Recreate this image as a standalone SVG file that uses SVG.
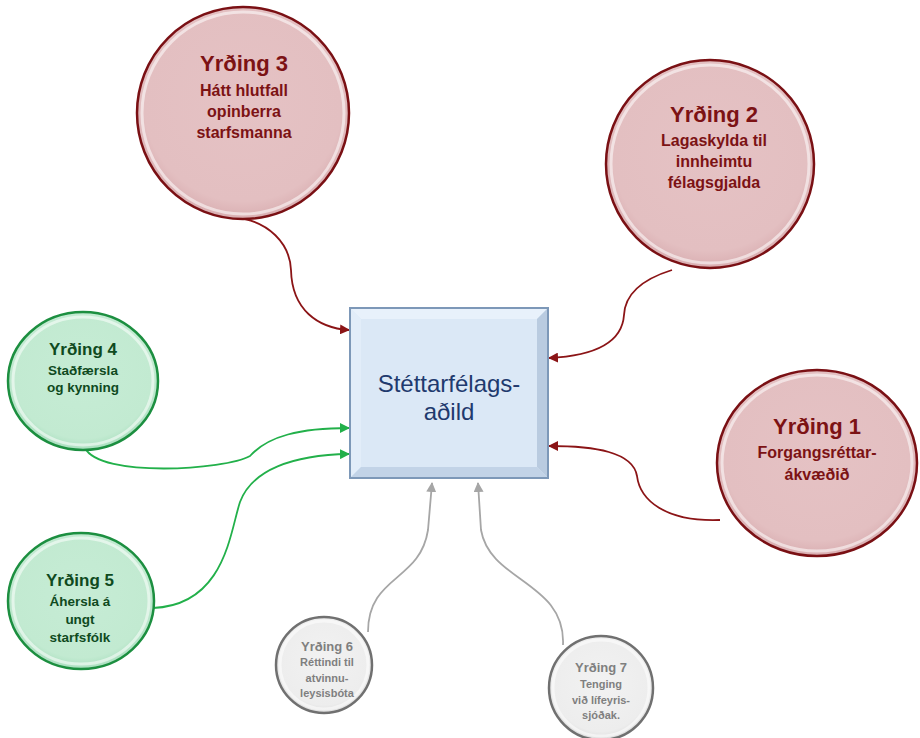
<svg xmlns="http://www.w3.org/2000/svg" width="920" height="738" viewBox="0 0 920 738">
<defs>
<style>
.t{font-family:"Liberation Sans",Arial,sans-serif;font-weight:bold;text-anchor:middle}
.red{fill:#7c1214}
.grn{fill:#0f4a1e}
.gry{fill:#7f7f7f}
.rc{fill:url(#gRed);stroke:#7a1014;stroke-width:2.5}
.gc{fill:url(#gGrn);stroke:#1c8f40;stroke-width:2.5}
.yc{fill:url(#gGry);stroke:#707070;stroke-width:2.5}
.hl{fill:none;stroke:#ffffff;stroke-opacity:0.55;stroke-width:3}
.cr{fill:none;stroke:#8b1416;stroke-width:1.8}
.cg{fill:none;stroke:#22b04a;stroke-width:1.8}
.cy{fill:none;stroke:#a6a6a6;stroke-width:1.8}
</style>
<radialGradient id="gRed" cx="0.5" cy="0.45" r="0.55">
<stop offset="0" stop-color="#e5c2c4"/><stop offset="0.85" stop-color="#e3bfc1"/><stop offset="1" stop-color="#d9aeb1"/>
</radialGradient>
<radialGradient id="gGrn" cx="0.5" cy="0.45" r="0.55">
<stop offset="0" stop-color="#c6ecd5"/><stop offset="0.85" stop-color="#c2ead1"/><stop offset="1" stop-color="#aadfbf"/>
</radialGradient>
<radialGradient id="gGry" cx="0.5" cy="0.45" r="0.55">
<stop offset="0" stop-color="#f2f2f2"/><stop offset="0.85" stop-color="#ededed"/><stop offset="1" stop-color="#dcdcdc"/>
</radialGradient>
<marker id="aR" markerWidth="10" markerHeight="10" refX="9" refY="5" orient="auto" markerUnits="userSpaceOnUse"><path d="M0,0 L10,5 L0,10 Z" fill="#8b1416"/></marker>
<marker id="aG" markerWidth="10" markerHeight="10" refX="9" refY="5" orient="auto" markerUnits="userSpaceOnUse"><path d="M0,0 L10,5 L0,10 Z" fill="#22b04a"/></marker>
<marker id="aY" markerWidth="10" markerHeight="10" refX="9" refY="5" orient="auto" markerUnits="userSpaceOnUse"><path d="M0,0 L10,5 L0,10 Z" fill="#a6a6a6"/></marker>
</defs>
<rect width="920" height="738" fill="#ffffff"/>

<g id="connectors">
<path class="cr" d="M232,217 C270,220 290,245 291,270 C292,310 318,328 349,330" marker-end="url(#aR)"/>
<path class="cr" d="M672,270 C640,280 625,295 624,315 C622,345 590,356 549,358" marker-end="url(#aR)"/>
<path class="cr" d="M720,520 C665,522 640,500 637,476 C633,452 595,446 549,446" marker-end="url(#aR)"/>
<path class="cg" d="M85,448 C100,478 225,470 250,456 C268,436 300,428 349,428" marker-end="url(#aG)"/>
<path class="cg" d="M153,608 C225,605 230,532 240,502 C252,470 292,455 349,454" marker-end="url(#aG)"/>
<path class="cy" d="M368,632 C368,575 420,582 428,530 L432,483" marker-end="url(#aY)"/>
<path class="cy" d="M563,645 C566,582 490,582 481,530 L478,483" marker-end="url(#aY)"/>
</g>

<g id="box">
<rect x="350" y="308" width="198" height="170" fill="#d9e7f6" stroke="#7d98b8" stroke-width="2"/>
<polygon points="351,309 547,309 537,319 361,319" fill="#e8f1fb"/>
<polygon points="351,309 361,319 361,467 351,477" fill="#e2edf9"/>
<polygon points="547,309 547,477 537,467 537,319" fill="#b9cbe0"/>
<polygon points="351,477 361,467 537,467 547,477" fill="#c2d3e7"/>
<rect x="361" y="319" width="176" height="148" fill="#dbe8f6"/>
<text x="449" y="392" font-family="Liberation Sans,Arial,sans-serif" font-size="24" fill="#1f3a6e" text-anchor="middle">Stéttarfélags-</text>
<text x="449" y="420" font-family="Liberation Sans,Arial,sans-serif" font-size="24" fill="#1f3a6e" text-anchor="middle">aðild</text>
</g>

<g id="n3">
<circle class="rc" cx="243" cy="113" r="106"/>
<circle class="hl" cx="243" cy="113" r="101"/>
<text class="t red" x="244" y="71" font-size="22">Yrðing 3</text>
<text class="t red" x="244" y="96" font-size="16">Hátt hlutfall</text>
<text class="t red" x="244" y="117" font-size="16">opinberra</text>
<text class="t red" x="244" y="138" font-size="16">starfsmanna</text>
</g>

<g id="n2">
<circle class="rc" cx="710" cy="164" r="104"/>
<circle class="hl" cx="710" cy="164" r="99"/>
<text class="t red" x="714" y="122" font-size="22">Yrðing 2</text>
<text class="t red" x="714" y="146" font-size="16">Lagaskylda til</text>
<text class="t red" x="714" y="167" font-size="16">innheimtu</text>
<text class="t red" x="714" y="188" font-size="16">félagsgjalda</text>
</g>

<g id="n1">
<ellipse class="rc" cx="817" cy="463" rx="100" ry="93"/>
<ellipse class="hl" cx="817" cy="463" rx="95" ry="88"/>
<text class="t red" x="817" y="434" font-size="22">Yrðing 1</text>
<text class="t red" x="817" y="458" font-size="16">Forgangsréttar-</text>
<text class="t red" x="817" y="480" font-size="16">ákvæðið</text>
</g>

<g id="n4">
<ellipse class="gc" cx="83" cy="381" rx="75" ry="69"/>
<ellipse class="hl" cx="83" cy="381" rx="70" ry="64"/>
<text class="t grn" x="83" y="355" font-size="17">Yrðing 4</text>
<text class="t grn" x="83" y="375" font-size="13.5">Staðfærsla</text>
<text class="t grn" x="83" y="392" font-size="13.5">og kynning</text>
</g>

<g id="n5">
<ellipse class="gc" cx="81" cy="601" rx="73" ry="68"/>
<ellipse class="hl" cx="81" cy="601" rx="68" ry="63"/>
<text class="t grn" x="80" y="586" font-size="17">Yrðing 5</text>
<text class="t grn" x="80" y="606" font-size="13.5">Áhersla á</text>
<text class="t grn" x="80" y="624" font-size="13.5">ungt</text>
<text class="t grn" x="80" y="642" font-size="13.5">starfsfólk</text>
</g>

<g id="n6">
<circle class="yc" cx="324" cy="665" r="48"/>
<circle class="hl" cx="324" cy="665" r="44"/>
<text class="t gry" x="327" y="651" font-size="13">Yrðing 6</text>
<text class="t gry" x="327" y="666" font-size="11">Réttindi til</text>
<text class="t gry" x="327" y="682" font-size="11">atvinnu-</text>
<text class="t gry" x="327" y="697" font-size="11">leysisbóta</text>
</g>

<g id="n7">
<circle class="yc" cx="601" cy="688" r="52"/>
<circle class="hl" cx="601" cy="688" r="48"/>
<text class="t gry" x="601" y="672" font-size="13">Yrðing 7</text>
<text class="t gry" x="601" y="688" font-size="11">Tenging</text>
<text class="t gry" x="601" y="704" font-size="11">við lífeyris-</text>
<text class="t gry" x="601" y="719" font-size="11">sjóðak.</text>
</g>
</svg>
